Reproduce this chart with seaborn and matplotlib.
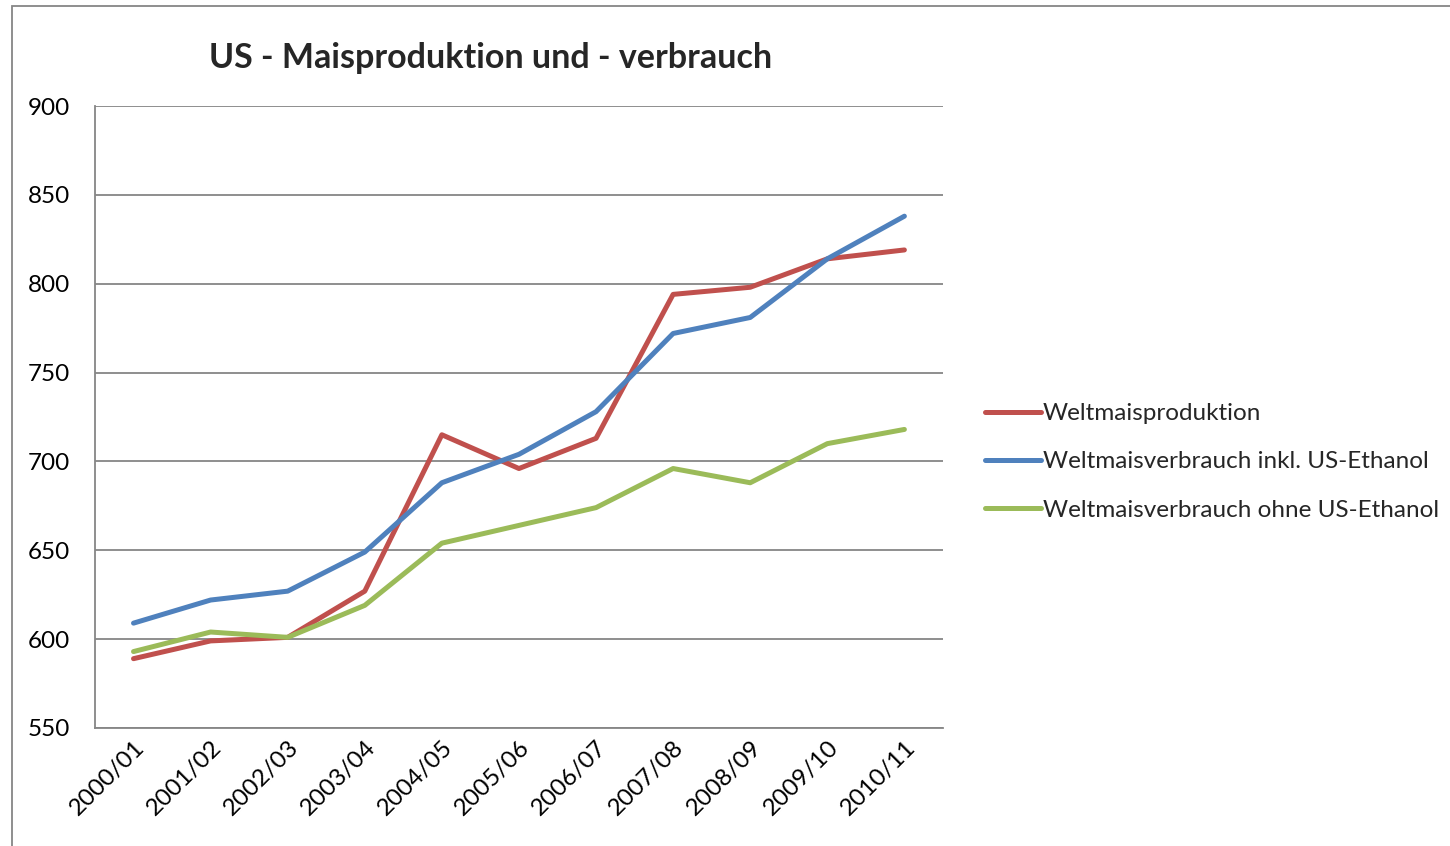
import matplotlib
matplotlib.use("Agg")
import matplotlib.pyplot as plt
import seaborn as sns
import pandas as pd
from matplotlib.patches import Rectangle

# Daten (Mio. t)
jahre = ["2000/01", "2001/02", "2002/03", "2003/04", "2004/05", "2005/06",
         "2006/07", "2007/08", "2008/09", "2009/10", "2010/11"]
produktion = [589, 599, 601, 627, 715, 696, 713, 794, 798, 814, 819]
verbrauch_inkl = [609, 622, 627, 649, 688, 704, 728, 772, 781, 814, 838]
verbrauch_ohne = [593, 604, 601, 619, 654, 664, 674, 696, 688, 710, 718]

serien = ["Weltmaisproduktion", "Weltmaisverbrauch inkl. US-Ethanol",
          "Weltmaisverbrauch ohne US-Ethanol"]
farben = ["#C0504D", "#4F81BD", "#9BBB59"]

df = pd.DataFrame({"Jahr": jahre, serien[0]: produktion,
                   serien[1]: verbrauch_inkl, serien[2]: verbrauch_ohne})
df_long = df.melt(id_vars="Jahr", var_name="Serie", value_name="Wert")

sns.set_theme(style="white")
plt.rcParams["font.family"] = ["Lato", "DejaVu Sans"]

fig = plt.figure(figsize=(14.5, 8.46), dpi=100)
ax = fig.add_axes([0.0655, 0.1395, 0.5848, 0.7352])

sns.lineplot(data=df_long, x="Jahr", y="Wert", hue="Serie", hue_order=serien,
             palette=farben, linewidth=3.6, sort=False, ax=ax, legend=True)

ax.set_ylim(550, 900)
ax.set_yticks(range(550, 901, 50))
ax.set_xlim(-0.5, len(jahre) - 0.5)
ax.yaxis.grid(True, color="#868686", linewidth=1.3)
ax.set_axisbelow(True)
ax.set_xlabel("")
ax.set_ylabel("")
for s in ["top", "right"]:
    ax.spines[s].set_visible(False)
for s in ["left", "bottom"]:
    ax.spines[s].set_color("#868686")
    ax.spines[s].set_linewidth(1.3)
ax.tick_params(axis="both", length=0, labelsize=17.5, colors="black")
ax.tick_params(axis="y", pad=18)
ax.tick_params(axis="x", pad=6)
plt.setp(ax.get_xticklabels(), rotation=45, ha="right", rotation_mode="anchor")

fig.text(0.3386, 0.931, "US - Maisproduktion und - verbrauch", ha="center",
         va="center", fontsize=24.5, fontweight="bold")

leg = ax.legend(loc="center left", bbox_to_anchor=(0.664, 0.454),
                bbox_transform=fig.transFigure, frameon=False, fontsize=17.5,
                handlelength=2.3, handletextpad=0.1, labelspacing=1.12)
for h in leg.get_lines():
    h.set_linewidth(3.6)

fig.patches.append(Rectangle((12 / 1450, -0.05), 1.2, 1 - 6 / 846 + 0.05,
                             transform=fig.transFigure, fill=False,
                             edgecolor="#868686", linewidth=1.3))

fig.savefig("out.png", dpi=100)
